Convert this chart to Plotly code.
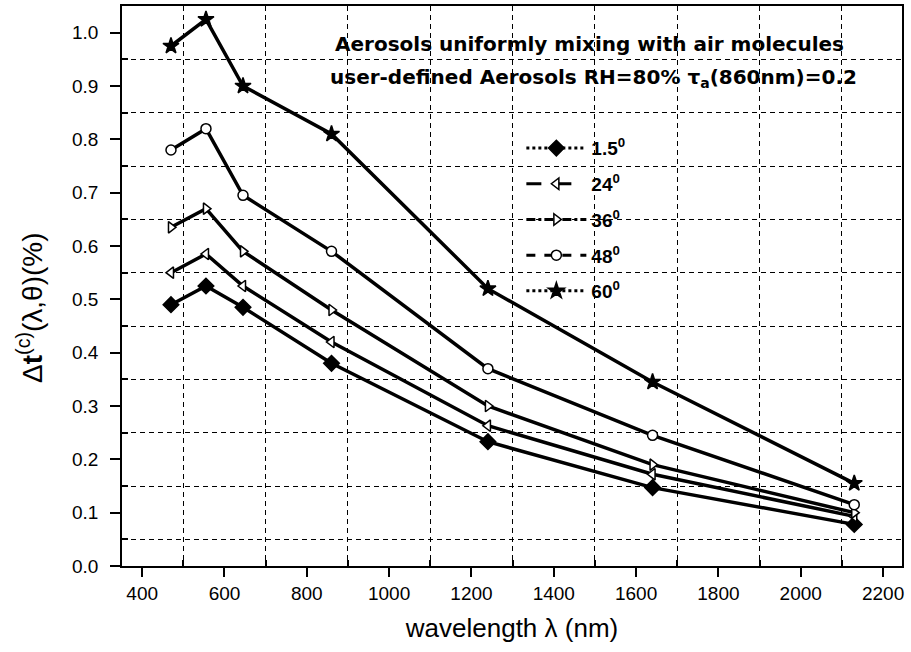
import plotly.graph_objects as go

wavelength = [470, 555, 645, 860, 1240, 1640, 2130]
s_1_5 = [0.49, 0.525, 0.485, 0.38, 0.233, 0.147, 0.078]
s_24 = [0.55, 0.585, 0.525, 0.42, 0.263, 0.172, 0.093]
s_36 = [0.635, 0.67, 0.59, 0.48, 0.30, 0.19, 0.10]
s_48 = [0.78, 0.82, 0.695, 0.59, 0.37, 0.245, 0.115]
s_60 = [0.975, 1.025, 0.90, 0.81, 0.52, 0.345, 0.155]

series = [
    ("<b>1.5<sup>0</sup></b>", s_1_5, "diamond", "black", "dot", 12),
    ("<b>24<sup>0</sup></b>", s_24, "triangle-left", "white", "longdash", 10),
    ("<b>36<sup>0</sup></b>", s_36, "triangle-right", "white", "dashdot", 10),
    ("<b>48<sup>0</sup></b>", s_48, "circle", "white", "dash", 10),
    ("<b>60<sup>0</sup></b>", s_60, "star", "black", "dot", 12),
]

fig = go.Figure()
for i, (name, ys, sym, fill, dash, msize) in enumerate(series):
    fig.add_trace(go.Scatter(
        x=wavelength, y=ys, mode="lines+markers", showlegend=False,
        line=dict(color="black", width=3.5),
        marker=dict(symbol=sym, size=msize, color=fill, line=dict(color="black", width=1.5)),
    ))
for i, (name, ys, sym, fill, dash, msize) in enumerate(series):
    fig.add_trace(go.Scatter(
        x=[None], y=[None], mode="lines+markers", name=name, legendgroup=str(i),
        line=dict(color="black", width=3, dash=dash),
        marker=dict(symbol=sym, size=msize, color=fill, line=dict(color="black", width=1.5)),
    ))

axis_font = dict(family="Liberation Sans, Arial", size=19, color="black")
fig.update_xaxes(
    range=[351, 2246], tickvals=[400, 600, 800, 1000, 1200, 1400, 1600, 1800, 2000, 2200],
    ticks="outside", ticklen=9, tickwidth=1.5, tickcolor="black",
    showline=True, linecolor="black", linewidth=1.5, mirror=True,
    showgrid=False, zeroline=False, tickfont=axis_font,
    minor=dict(tickvals=[500, 700, 900, 1100, 1300, 1500, 1700, 1900, 2100],
               ticks="inside", ticklen=6, tickcolor="black",
               showgrid=True, gridcolor="black", gridwidth=1.2, griddash="5px,4px"),
    title=dict(text="wavelength λ (nm)", font=dict(family="Liberation Sans, Arial", size=26, color="black"), standoff=16),
)
fig.update_yaxes(
    range=[0, 1.05], tickvals=[0.0, 0.1, 0.2, 0.3, 0.4, 0.5, 0.6, 0.7, 0.8, 0.9, 1.0], tickformat=".1f",
    ticks="outside", ticklen=10, tickwidth=1.5, tickcolor="black", ticklabelstandoff=8,
    showline=True, linecolor="black", linewidth=1.5, mirror=True,
    showgrid=False, zeroline=False, tickfont=axis_font,
    minor=dict(tickvals=[0.05, 0.15, 0.25, 0.35, 0.45, 0.55, 0.65, 0.75, 0.85, 0.95],
               ticks="inside", ticklen=6, tickcolor="black",
               showgrid=True, gridcolor="black", gridwidth=1.2, griddash="5px,4px"),
)

fig.update_layout(
    width=911, height=652,
    margin=dict(l=122, r=9, t=4, b=86),
    plot_bgcolor="white", paper_bgcolor="white",
    legend=dict(x=0.512, y=0.78, xanchor="left", yanchor="top", bgcolor="rgba(0,0,0,0)",
                font=dict(family="Liberation Sans, Arial", size=19, color="black"),
                tracegroupgap=8, itemwidth=60),
    annotations=[
        dict(text="<b>Aerosols uniformly mixing with air molecules</b>", xref="paper", yref="paper",
             x=(333 - 122) / 780, y=(566 - 42) / 562, xanchor="left", yanchor="middle", showarrow=False,
             font=dict(family="DejaVu Sans", size=20, color="black")),
        dict(text="<b>user-defined Aerosols RH=80% τ<sub>a</sub>(860nm)=0.2</b>", xref="paper", yref="paper",
             x=(328 - 122) / 780, y=(566 - 76) / 562, xanchor="left", yanchor="middle", showarrow=False,
             font=dict(family="DejaVu Sans", size=20, color="black")),
        dict(text="Δ<b>t</b><sup>(c)</sup>(λ,θ)(%)", xref="paper", yref="paper",
             x=(30 - 122) / 780, y=(566 - 307) / 562, xanchor="center", yanchor="middle", textangle=-90,
             showarrow=False, font=dict(family="Liberation Sans, Arial", size=28, color="black")),
    ],
)

fig.write_html("out.html")
